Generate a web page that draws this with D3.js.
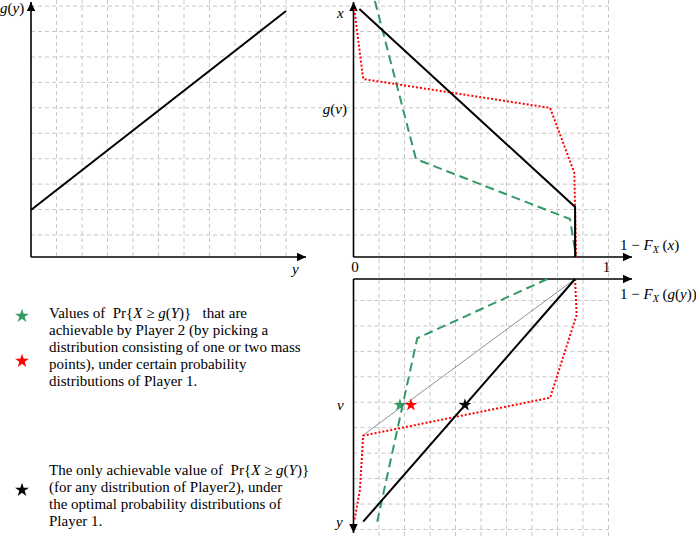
<!DOCTYPE html>
<html>
<head>
<meta charset="utf-8">
<script src="https://cdn.jsdelivr.net/npm/d3@7"></script>
<style>
  body { margin: 0; background: #fff; }
  svg { font-family: "Liberation Serif", "Times New Roman", serif; }
  text { white-space: pre; }
</style>
</head>
<body>
<div id="chart"></div>
<script>
// chart values, in units of the axes (0..1 both ways)
// left panel: g(y) against y
let gLine = [[0, 0.187], [1, 0.98]];

// top right panel: 1 - F_X(x) against x
let optimalTop = [[0.023, 0.988], [0.869, 0.199], [0.869, 0]];
let redTop = [[0.003, 0.988], [0.038, 0.709], [0.771, 0.594], [0.866, 0.335], [0.873, 0]];
let greenTop = [[0.084, 1.02], [0.245, 0.39], [0.849, 0.151], [0.873, 0]];

// bottom right panel: 1 - F_X(g(y)) against y (downwards)
let optimalBottom = [[0.869, 0], [0.038, 0.967]];
let chordBottom = [[0.869, 0], [0.042, 0.619]];
let greenBottom = [[0.76, 0], [0.25, 0.236], [0.093, 0.967]];
let redBottom = [[0.869, 0], [0.875, 0.143], [0.771, 0.473], [0.038, 0.624], [0.025, 0.841], [0.004, 0.96]];
let stars = [
    { x: 0.182, y: 0.498, color: "#339966" },
    { x: 0.225, y: 0.498, color: "#ff0000" },
    { x: 0.437, y: 0.498, color: "#000000" }
];

let axisTicks = ["0", "1"];

let legend1 = [
    "Values of  Pr{X \u2265 g(Y)}   that are",
    "achievable by Player 2 (by picking a",
    "distribution consisting of one or two mass",
    "points), under certain probability",
    "distributions of Player 1."
];
let legend2 = [
    "The only achievable value of  Pr{X \u2265 g(Y)}",
    "(for any distribution of Player2), under",
    "the optimal probability distributions of",
    "Player 1."
];

// sizes
let width = 696;
let height = 536;
let green = "#339966";
let red = "#ff0000";
let gridColor = "#c8c8c8";

let svg = d3.select("#chart")
    .append("svg")
    .attr("width", width)
    .attr("height", height);

// scales
let xL = d3.scaleLinear().domain([0, 1]).range([31, 286]);
let xR = d3.scaleLinear().domain([0, 1]).range([353.5, 608.5]);
let yT = d3.scaleLinear().domain([0, 1]).range([257, 6]);
let yB = d3.scaleLinear().domain([0, 1]).range([279, 530]);

let pitch = 25.44;

// grid
let grid = svg.append("g")
    .attr("stroke", gridColor)
    .attr("stroke-width", 1)
    .attr("stroke-dasharray", "4,3")
    .attr("fill", "none");

let topRows = d3.range(10).map(k => yT(0) - 22 - k * pitch);
let bottomRows = d3.range(10).map(k => yB(0) + 21.5 + k * pitch);
let cols = d3.range(1, 11).map(i => i / 10);

grid.selectAll(".ht").data(topRows).enter().append("line")
    .attr("x1", xL(0)).attr("x2", xR(1))
    .attr("y1", d => d).attr("y2", d => d);
grid.selectAll(".hb").data(bottomRows).enter().append("line")
    .attr("x1", xR(0)).attr("x2", xR(1))
    .attr("y1", d => d).attr("y2", d => d);
grid.selectAll(".vl").data(cols).enter().append("line")
    .attr("x1", d => xL(d)).attr("x2", d => xL(d))
    .attr("y1", 0).attr("y2", yT(0));
grid.selectAll(".vr").data(cols).enter().append("line")
    .attr("x1", d => xR(d)).attr("x2", d => xR(d))
    .attr("y1", 0).attr("y2", height);

// arrow heads
svg.append("defs").append("marker")
    .attr("id", "arrow")
    .attr("viewBox", "-10 -5 10 10")
    .attr("refX", 0).attr("refY", 0)
    .attr("markerWidth", 10).attr("markerHeight", 10)
    .attr("markerUnits", "userSpaceOnUse")
    .attr("orient", "auto")
    .append("path")
    .attr("d", "M0,0L-9,-4.2L-9,4.2Z")
    .attr("fill", "#000");

let axes = [
    [xL(0), yT(0), xL(0), 2],
    [xL(0), yT(0), 306, yT(0)],
    [xR(0), yT(0), xR(0), 2],
    [xR(0), yT(0), 632, yT(0)],
    [xR(0), yB(0), 632, yB(0)],
    [xR(0), yB(0), xR(0), 533]
];
svg.selectAll(".axis").data(axes).enter().append("line")
    .attr("x1", d => d[0]).attr("y1", d => d[1])
    .attr("x2", d => d[2]).attr("y2", d => d[3])
    .attr("stroke", "#000")
    .attr("stroke-width", 1.6)
    .attr("marker-end", "url(#arrow)");

// curves
let lineL = d3.line().x(d => xL(d[0])).y(d => yT(d[1]));
let lineT = d3.line().x(d => xR(d[0])).y(d => yT(d[1]));
let lineB = d3.line().x(d => xR(d[0])).y(d => yB(d[1]));

let curves = [
    { d: lineL(gLine), color: "#000", w: 2, dash: null },
    { d: lineT(greenTop), color: green, w: 2, dash: "9,5" },
    { d: lineT(redTop), color: red, w: 2, dash: "2,2" },
    { d: lineT(optimalTop), color: "#000", w: 2, dash: null },
    { d: lineB(chordBottom), color: "#444", w: 0.6, dash: null },
    { d: lineB(greenBottom), color: green, w: 2, dash: "9,5" },
    { d: lineB(redBottom), color: red, w: 2, dash: "2,2" },
    { d: lineB(optimalBottom), color: "#000", w: 2, dash: null }
];
svg.selectAll(".curve").data(curves).enter().append("path")
    .attr("d", d => d.d)
    .attr("fill", "none")
    .attr("stroke", d => d.color)
    .attr("stroke-width", d => d.w)
    .attr("stroke-dasharray", d => d.dash);

let star = d3.symbol().type(d3.symbolStar);
svg.selectAll(".star").data(stars).enter().append("path")
    .attr("d", star.size(50)())
    .attr("transform", d => "translate(" + xR(d.x) + "," + (yB(d.y) + 1) + ")")
    .attr("fill", d => d.color);

// labels
function mathLabel(x, y, parts, anchor) {
    let t = svg.append("text")
        .attr("x", x).attr("y", y)
        .attr("font-size", 15)
        .attr("text-anchor", anchor || "start");
    parts.forEach(p => {
        let s = t.append("tspan").text(p.t);
        if (p.i) s.attr("font-style", "italic");
        if (p.sub) s.attr("font-size", 10).attr("dy", 3);
        if (p.up) s.attr("dy", -3);
    });
    return t;
}

mathLabel(0, 13, [{ t: "g", i: 1 }, { t: "(" }, { t: "y", i: 1 }, { t: ")" }]);
mathLabel(292, 274, [{ t: "y", i: 1 }]);
mathLabel(337, 18, [{ t: "x", i: 1 }]);
mathLabel(347, 114, [{ t: "g", i: 1 }, { t: "(" }, { t: "v", i: 1 }, { t: ")" }], "end");
mathLabel(337, 410, [{ t: "v", i: 1 }]);
mathLabel(336, 527, [{ t: "y", i: 1 }]);

svg.selectAll(".tick").data(axisTicks).enter().append("text")
    .attr("x", (d, i) => xR(+d) + (i ? -2 : 1.5))
    .attr("y", 272)
    .attr("font-size", 15)
    .attr("text-anchor", "middle")
    .text(d => d);

mathLabel(620, 250, [{ t: "1 \u2212 " }, { t: "F", i: 1 }, { t: "X", i: 1, sub: 1 }, { t: " (", up: 1 }, { t: "x", i: 1 }, { t: ")" }]);
mathLabel(620, 299, [{ t: "1 \u2212 " }, { t: "F", i: 1 }, { t: "X", i: 1, sub: 1 }, { t: " (", up: 1 }, { t: "g", i: 1 }, { t: "(" }, { t: "y", i: 1 }, { t: "))" }]);

// legend
function legendBlock(lines, top) {
    let t = svg.append("text")
        .attr("font-size", 15);
    lines.forEach((line, i) => {
        let row = t.append("tspan").attr("x", 49).attr("y", top + i * 17);
        // italic letters inside Pr{X ≥ g(Y)}
        let m = line.match(/^(.*Pr\{)(X)( \u2265 )(g)(\()(Y)(\)\}.*)$/);
        if (m) {
            row.text(m[1]);
            t.append("tspan").attr("font-style", "italic").text(m[2]);
            t.append("tspan").text(m[3]);
            t.append("tspan").attr("font-style", "italic").text(m[4]);
            t.append("tspan").text(m[5]);
            t.append("tspan").attr("font-style", "italic").text(m[6]);
            t.append("tspan").text(m[7]);
        } else {
            row.text(line);
        }
    });
}
legendBlock(legend1, 318);
legendBlock(legend2, 475);

let legendStars = [
    { y: 316, color: green },
    { y: 361, color: red },
    { y: 490, color: "#000" }
];
svg.selectAll(".lstar").data(legendStars).enter().append("path")
    .attr("d", star.size(60)())
    .attr("transform", d => "translate(22," + d.y + ")")
    .attr("fill", d => d.color);
</script>
</body>
</html>
